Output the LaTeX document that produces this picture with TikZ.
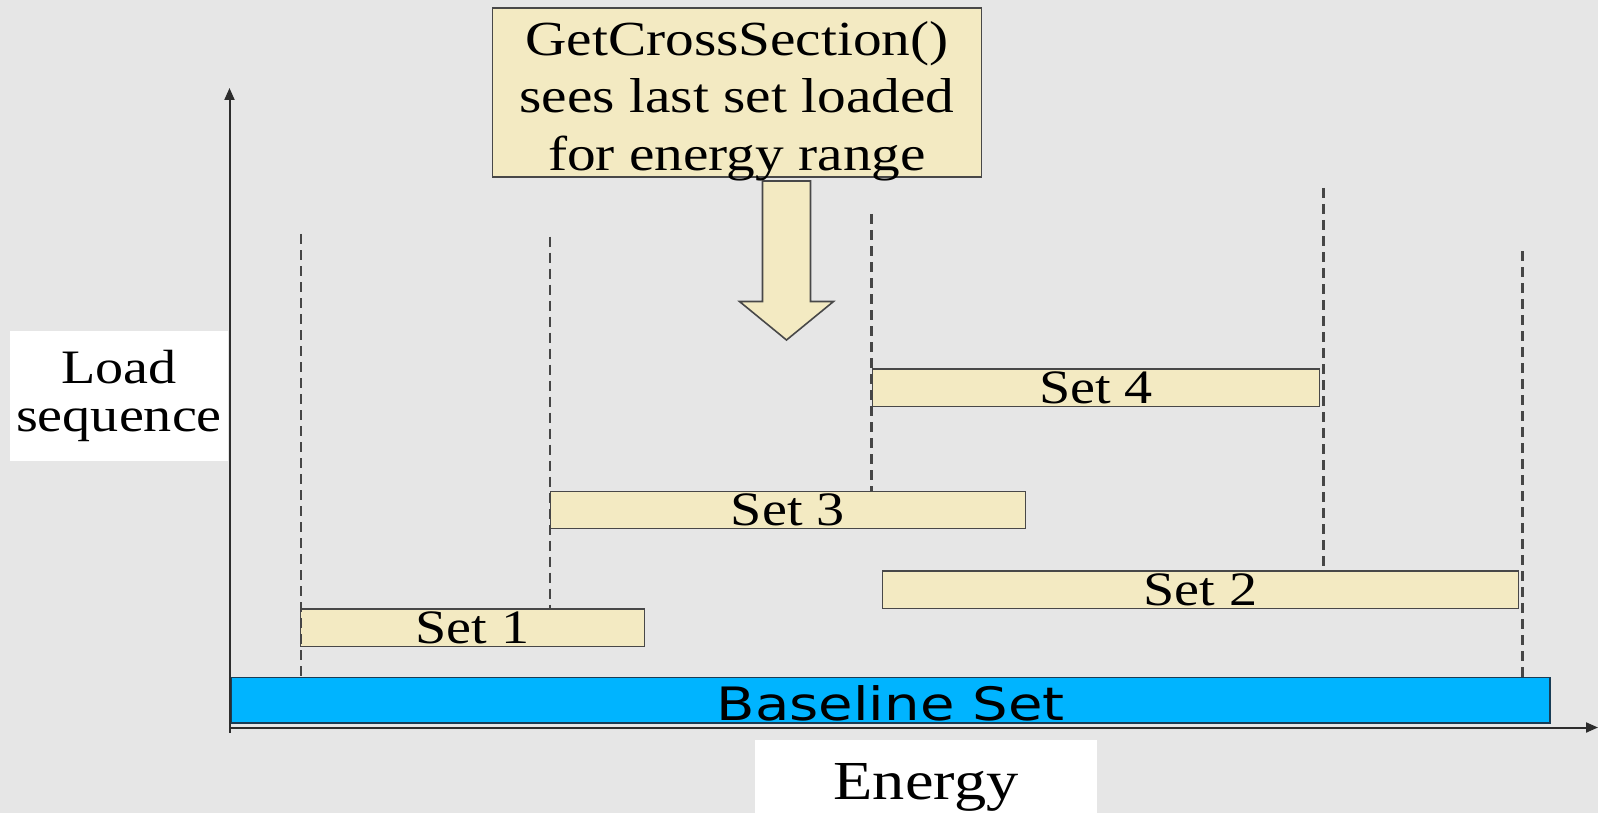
\documentclass[tikz,border=0pt]{standalone}
\usepackage{fontspec}
\setmainfont{Liberation Serif}
\newfontfamily\serifS[FakeStretch=1.17]{Liberation Serif}
\newfontfamily\sansS[FakeStretch=1.22]{DejaVu Sans}
\usetikzlibrary{arrows.meta}
\definecolor{bgc}{RGB}{230,230,230}
\definecolor{beige}{RGB}{243,234,194}
\definecolor{boxline}{RGB}{72,72,72}
\definecolor{bluefill}{RGB}{0,180,255}
\definecolor{blueline}{RGB}{25,60,85}
\definecolor{dashc}{RGB}{70,70,70}
\definecolor{axisc}{RGB}{45,45,45}
\begin{document}
\begin{tikzpicture}[x=1pt,y=-1pt,
  setbox/.style={draw=boxline, fill=beige, line width=1.6pt, inner sep=0pt,
    text height=32pt, text depth=0pt, font=\serifS\fontsize{48}{51}\selectfont},
  basebox/.style={draw=blueline, fill=bluefill, line width=1.6pt, inner sep=0pt,
    text height=33.5pt, text depth=0pt, font=\sansS\fontsize{46}{50}\selectfont},
  lbl/.style={fill=white, inner sep=0pt, font=\serifS\fontsize{48}{48}\selectfont},
  dashline/.style={draw=dashc, line width=2.2pt, dash pattern=on 10pt off 6pt},
  axisline/.style={draw=axisc, line width=2pt},
  arrowst/.style={draw=boxline, fill=beige, line width=1.6pt, line join=miter}]
\fill[bgc] (0,0) rectangle (1598,813);
\useasboundingbox (0,0) rectangle (1598,813);

% axes
\coordinate (O) at (229.5,727.5);
\coordinate (ytip) at (229.5,88);
\coordinate (xtip) at (1598,727.5);

% labels
\node[lbl, minimum width=218pt, minimum height=130pt, align=center,
  text height=80pt, text depth=10pt] (load) at (119,396) {Load\\sequence};
\node[lbl, minimum width=342pt, minimum height=73pt, text height=36.5pt,
  text depth=0pt, font=\serifS\fontsize{55}{60}\selectfont] (energy) at (926,776.5)
  {\raisebox{-5pt}{Energy}};

% boxes
\node[basebox, minimum width=1318.5pt, minimum height=45.5pt] (base) at (890.7,700.2)
  {\raisebox{-3.3pt}{Baseline Set}};
\node[setbox, minimum width=344pt, minimum height=37.5pt] (s1) at (472.5,627.7) {Set 1};
\node[setbox, minimum width=636pt, minimum height=37.5pt] (s2) at (1200.5,589.7) {Set 2};
\node[setbox, minimum width=475pt, minimum height=37pt] (s3) at (787.9,509.9) {Set 3};
\node[setbox, minimum width=447pt, minimum height=37.5pt] (s4) at (1096,387.7) {Set 4};

% dashed guides
\coordinate (d1) at (300.6,234);
\coordinate (d2) at (550.3,236.5);
\coordinate (d3) at (871.5,214);
\coordinate (d4) at (1323.5,188);
\coordinate (d5) at (1522.5,251);
\draw[dashline] (d1) -- (d1 |- base.north);
\draw[dashline] (d2) -- (d2 |- s1.north);
\draw[dashline] (d3) -- (d3 |- s3.north);
\draw[dashline] (d4) -- (d4 |- s2.north);
\draw[dashline] (d5) -- (d5 |- base.north);

\draw[axisline, -{Triangle[width=10pt,length=12pt]}] ([yshift=-5pt]O) -- (ytip);
\draw[axisline, -{Triangle[width=10pt,length=12pt]}] (O) -- (xtip);

% question box and block arrow
\node[setbox, minimum width=489pt, minimum height=168.7pt, align=center,
  text height=155pt, text depth=0pt, font=\serifS\fontsize{49}{57.5}\selectfont] (q) at (737,92.6)
  {GetCrossSection()\\sees last set loaded\\for energy range};
\draw[arrowst] (762.5,181) -- (810.5,181) -- (810.5,301.5) -- (833.5,301.5)
  -- (786.5,340) -- (739.5,301.5) -- (762.5,301.5) -- cycle;
\end{tikzpicture}
\end{document}
